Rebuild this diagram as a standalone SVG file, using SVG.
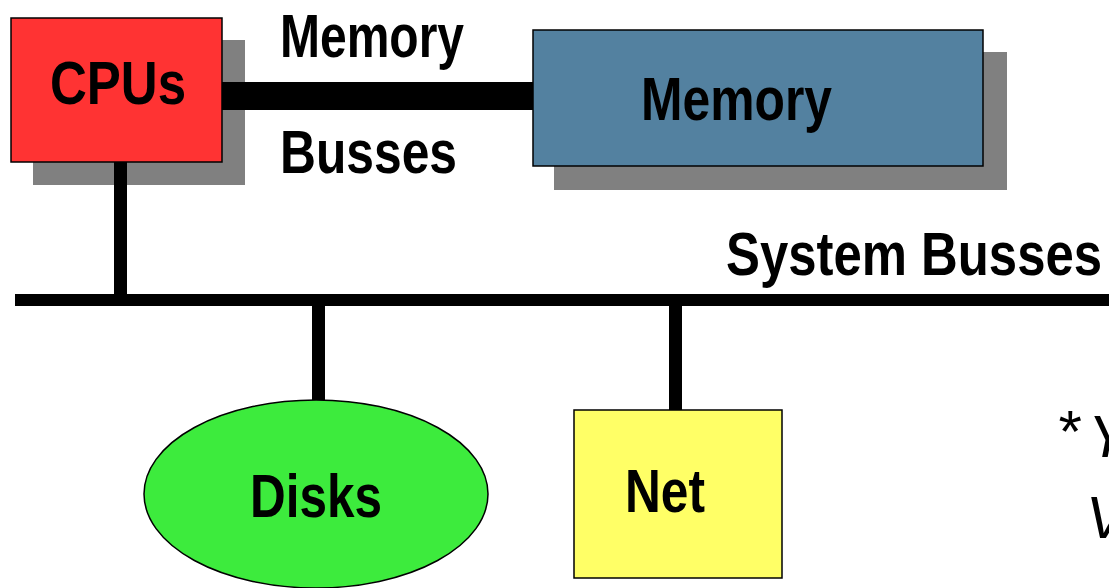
<svg xmlns="http://www.w3.org/2000/svg" width="1109" height="588" viewBox="0 0 1109 588">
<style>
.lbl{font-family:"Liberation Sans",Arial,sans-serif;font-weight:bold;font-size:61px;fill:#000}
.note{font-family:"Liberation Sans",Arial,sans-serif;font-style:italic;font-size:60px;fill:#000}
.shadow{fill:#808080}
.box{stroke:#000;stroke-width:1.5}
</style>
<rect width="1109" height="588" fill="#fff"/>
<g id="cpus">
<rect class="shadow" x="33" y="40" width="212" height="145"/>
<rect class="box" x="11" y="18" width="211" height="144" fill="#ff3333"/>
<text class="lbl" x="50" y="104" textLength="136" lengthAdjust="spacingAndGlyphs">CPUs</text>
</g>
<g id="memory">
<rect class="shadow" x="554" y="52" width="453" height="138"/>
<rect class="box" x="533" y="30" width="450" height="136" fill="#5381a0"/>
<text class="lbl" x="641" y="120" textLength="191" lengthAdjust="spacingAndGlyphs">Memory</text>
</g>
<g id="disks">
<ellipse class="box" cx="316" cy="494" rx="172" ry="94" fill="#3deb3d"/>
<text class="lbl" x="250" y="517" textLength="132" lengthAdjust="spacingAndGlyphs">Disks</text>
</g>
<g id="net">
<rect class="box" x="574" y="410" width="208" height="168" fill="#ffff66"/>
<text class="lbl" x="625" y="512" textLength="80" lengthAdjust="spacingAndGlyphs">Net</text>
</g>
<g id="connectors" fill="#000">
<rect x="15" y="294" width="1094" height="12"/>
<rect x="222" y="82" width="311" height="28"/>
<rect x="114" y="162" width="13" height="136"/>
<rect x="312" y="300" width="13" height="100"/>
<rect x="669" y="300" width="13" height="110"/>
</g>
<g id="memory-bus-label">
<text class="lbl" x="280" y="57" textLength="184" lengthAdjust="spacingAndGlyphs">Memory</text>
<text class="lbl" x="280" y="173" textLength="177" lengthAdjust="spacingAndGlyphs">Busses</text>
</g>
<g id="system-bus-label">
<text class="lbl" x="726" y="275" textLength="376" lengthAdjust="spacingAndGlyphs">System Busses</text>
</g>
<g id="note">
<text class="note" y="457"><tspan x="1056" y="452">*</tspan><tspan x="1088" y="457">Y</tspan></text>
<text class="note" x="1086" y="538">V</text>
</g>
</svg>
